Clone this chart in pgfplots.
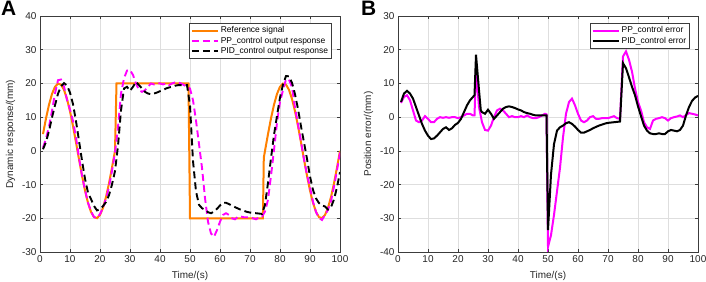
\documentclass[border=0pt]{standalone}
\usepackage{pgfplots}
\pgfplotsset{compat=1.18}
\usepackage{fontspec}
\setmainfont{Liberation Sans}
\definecolor{morange}{RGB}{255,128,0}
\definecolor{mmag}{RGB}{255,0,255}
\definecolor{gridc}{RGB}{222,222,222}
\definecolor{axc}{RGB}{60,60,60}
\pgfplotsset{
  mystyle/.style={
    scale only axis, width=300bp, height=236bp,
    xmin=0, xmax=100, xtick={0,10,...,100},
    grid=major, major grid style={gridc, line width=0.5pt},
    axis line style={axc, line width=0.5pt},
    tick style={axc, line width=0.5pt},
    tick align=inside, major tick length=3bp,
    ticklabel style={font=\fontsize{10}{12}\selectfont, text=black!85},
    label style={font=\fontsize{10}{12}\selectfont, text=black!85},
    xlabel style={yshift=-2bp},
    /pgf/number format/assume math mode=true,
    xlabel={Time/(s)},
    legend cell align=left,
    legend style={font=\fontsize{8.5}{10}\selectfont, draw=axc, line width=0.5pt,
      anchor=north east, at={(0.973,0.97)}, inner sep=1.5pt, row sep=-1.5pt},
    legend image code/.code={\draw[#1] (0bp,0bp) -- (26bp,0bp);},
  }
}
\begin{document}
\begin{tikzpicture}
\path[use as bounding box] (0,0) rectangle (706bp,282bp);
\node[anchor=north west, inner sep=0pt, font=\fontsize{21}{21}\selectfont\bfseries] at (1bp,281bp) {A};
\node[anchor=north west, inner sep=0pt, font=\fontsize{21}{21}\selectfont\bfseries] at (361bp,281bp) {B};
\begin{axis}[mystyle, at={(40bp,30bp)}, anchor=south west,
  ymin=-30, ymax=40, ytick={-30,-20,...,40},
  ylabel={Dynamic response/(mm)}]
\addplot[morange, line width=2bp] table {
t y
1 4.97
2 9.64
3 13.69
4 16.89
5 19.02
6 19.96
7 19.65
8 18.10
9 15.41
10 11.76
11 7.36
12 2.51
13 -2.51
14 -7.36
15 -11.76
16 -15.41
17 -18.10
18 -19.65
19 -19.96
20 -19.02
21 -16.89
22 -13.69
23 -9.64
24 -4.97
25 0
25.5 20
49.5 20
50 -20
74.3 -20
74.6 -2
75 0
76 4.97
77 9.64
78 13.69
79 16.89
80 19.02
81 19.96
82 19.65
83 18.10
84 15.41
85 11.76
86 7.36
87 2.51
88 -2.51
89 -7.36
90 -11.76
91 -15.41
92 -18.10
93 -19.65
94 -19.96
95 -19.02
96 -16.89
97 -13.69
98 -9.64
99 -4.97
100 0
};
\addlegendentry{Reference signal}
\addplot[mmag, line width=1.9bp, dash pattern=on 7bp off 4bp] table {
t y
1 0.97
2 3.64
3 7.19
4 11.89
5 17.02
6 20.96
7 21.15
8 19.1
9 15.11
10 12.26
11 8.86
12 4.01
13 -2.01
14 -7.36
15 -11.56
16 -15.41
17 -17.9
18 -19.65
19 -19.96
20 -18.72
21 -16.89
22 -14.19
23 -10.64
24 -5.97
25 -0.5
26 7
27 17
28 21.5
29 23.8
30 24
31 22.5
32 20
33 18
34 17.5
35 18
36 19
37 20
38 19.7
39 20
40 20
41 19.7
42 20
43 19.5
44 20
45 20.3
46 20.3
47 20
48 19.5
49 19
50 18.5
51 15
52 9
53 2
54 -5
55 -14
56 -21
57 -24.5
58 -25.5
59 -23.5
60 -21
61 -19
62 -18.5
63 -19
64 -20
65 -20.3
66 -19.5
67 -19.5
68 -19.7
69 -19.7
70 -19.7
71 -20
72 -20.3
73 -19.7
74 -19.5
75 -18
76 -14.5
77 -7.4
78 0.2
79 8.4
80 14.5
81 18
82 21.2
83 21.1
84 18.9
85 12.8
86 7.9
87 2.8
88 -2.5
89 -7.1
90 -10.8
91 -15.1
92 -18.1
93 -19.9
94 -20.5
95 -19
96 -17.5
97 -14.9
98 -10.6
99 -5.8
100 -0.5
};
\addlegendentry{PP\_control output response}
\addplot[black, line width=1.9bp, dash pattern=on 7bp off 4bp] table {
t y
1 0.47
2 2.64
3 5.89
4 9.89
5 13.52
6 16.96
7 19.15
8 20.1
9 19.41
10 17.26
11 13.86
12 8.81
13 2.99
14 -2.86
15 -8.26
16 -12.41
17 -14.3
18 -16.35
19 -17.66
20 -17.32
21 -16.39
22 -15.19
23 -13.14
24 -9.97
25 -6
26 1.5
27 12
28 18.5
29 19
30 17.8
31 19
32 20.5
33 19.5
34 18.5
35 17.5
36 17
37 16.8
38 17
39 17.3
40 17.7
41 18
42 18.5
43 18.8
44 19
45 19.3
46 19.5
47 19.5
48 19.5
49 19.5
50 13.5
51 -3
52 -12
53 -16
54 -17
55 -17.5
56 -18.2
57 -18.5
58 -18
59 -17.2
60 -16.2
61 -15.4
62 -15.4
63 -15.8
64 -16.2
65 -16.7
66 -17.1
67 -17.5
68 -17.8
69 -18.1
70 -18.3
71 -18.4
72 -18.5
73 -18.6
74 -18.7
75 -16
76 -9.5
77 -2.2
78 4.7
79 10.4
80 15.8
81 19.7
82 22.2
83 22.1
84 20.2
85 16.8
86 12.4
87 7.3
88 2.5
89 -2.4
90 -7.6
91 -11.6
92 -14.1
93 -15.5
94 -16.2
95 -16.5
96 -17.4
97 -16.7
98 -14.4
99 -10.8
100 -6.3
};
\addlegendentry{PID\_control output response}
\end{axis}
\begin{axis}[mystyle, at={(398bp,30bp)}, anchor=south west,
  ymin=-40, ymax=30, ytick={-40,-30,...,30},
  ylabel={Position error/(mm)}]
\addplot[mmag, line width=2bp] table {
t y
1 4.2
2 6
3 6.5
4 5
5 2
6 -1
7 -1.5
8 -1
9 0.3
10 -0.5
11 -1.5
12 -1.5
13 -0.5
14 0
15 -0.2
16 0
17 -0.2
18 0
19 0
20 -0.3
21 0
22 0.5
23 1
24 1
25 0.5
25.5 0.5
26 14
27 3
28 -1.5
29 -3.8
30 -4
31 -2.5
32 0
33 2
34 2.5
35 2
36 1
37 0
38 0.3
39 0
40 0
41 0.3
42 0
43 0.5
44 0
45 -0.3
46 -0.3
47 0
48 0.5
49 1
49.5 0.8
50 -38.5
51 -35
52 -29
53 -22
54 -15
55 -6
56 1
57 4.5
58 5.5
59 3.5
60 1
61 -1
62 -1.5
63 -1
64 0
65 0.3
66 -0.5
67 -0.5
68 -0.3
69 -0.3
70 -0.3
71 0
72 0.3
73 -0.3
74 -0.5
75 18
76 19.5
77 17
78 13.5
79 8.5
80 4.5
81 2
82 -1.5
83 -3
84 -3.5
85 -1
86 -0.5
87 -0.3
88 0
89 -0.3
90 -1
91 -0.3
92 0
93 0.2
94 0.5
95 0
96 0.6
97 1.2
98 1
99 0.8
100 0.5
};
\addlegendentry{PP\_control error}
\addplot[black, line width=2bp] table {
t y
1 4.5
2 7
3 7.8
4 7
5 5.5
6 3
7 0.5
8 -2
9 -4
10 -5.5
11 -6.5
12 -6.3
13 -5.5
14 -4.5
15 -3.5
16 -3
17 -3.8
18 -3.3
19 -2.3
20 -1.7
21 -0.5
22 1.5
23 3.5
24 5
25 6
25.5 6.5
26 18.5
27 8
27.6 2
28 1.5
29 1
30 2.2
31 1
32 -0.5
33 0.5
34 1.5
35 2.5
36 3
37 3.2
38 3
39 2.7
40 2.3
41 2
42 1.5
43 1.2
44 1
45 0.7
46 0.5
47 0.5
48 0.5
49 0.5
49.5 0.5
50 -33.5
51 -17
52 -8
53 -4
54 -3
55 -2.5
56 -1.8
57 -1.5
58 -2
59 -2.8
60 -3.8
61 -4.6
62 -4.6
63 -4.2
64 -3.8
65 -3.3
66 -2.9
67 -2.5
68 -2.2
69 -1.9
70 -1.7
71 -1.6
72 -1.5
73 -1.4
74 -1.3
75 16
76 14.5
77 11.8
78 9
79 6.5
80 3.2
81 0.3
82 -2.5
83 -4
84 -4.8
85 -5
86 -5
87 -4.8
88 -5
89 -5
90 -4.2
91 -3.8
92 -4
93 -4.2
94 -3.8
95 -2.5
96 0.5
97 3
98 4.8
99 5.8
100 6.3
};
\addlegendentry{PID\_control error}
\end{axis}
\end{tikzpicture}
\end{document}
